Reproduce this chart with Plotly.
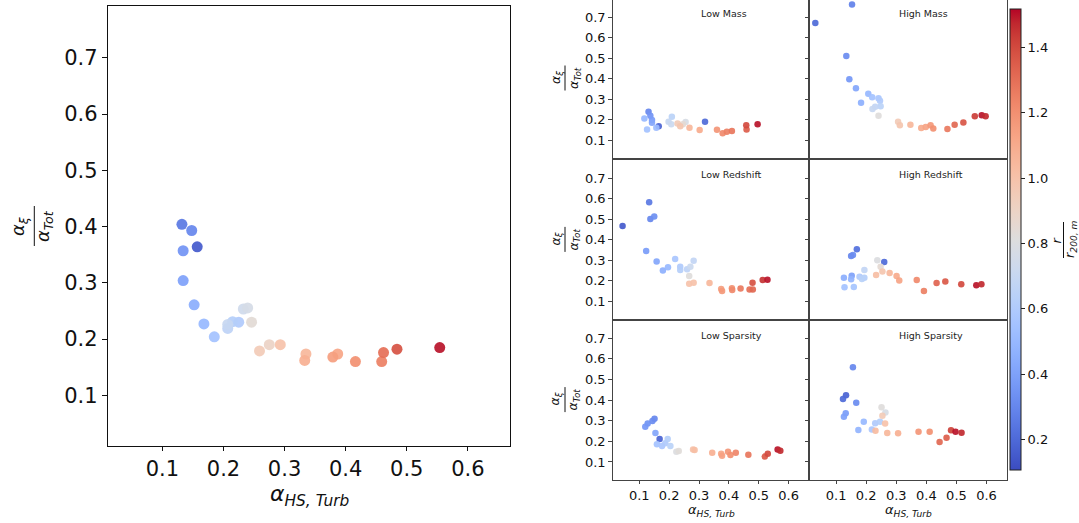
import plotly.graph_objects as go

W, H = 1079, 523

# ---------------- data ----------------
# main panel
main_x = [0.157, 0.132, 0.148, 0.134, 0.134, 0.152, 0.168, 0.185, 0.225, 0.215, 0.207, 0.207, 0.2325, 0.2396,
          0.246, 0.275, 0.259, 0.293, 0.335, 0.333, 0.387, 0.379, 0.416, 0.459, 0.462, 0.484, 0.554]
main_y = [0.364, 0.404, 0.393, 0.357, 0.304, 0.261, 0.227, 0.204, 0.230, 0.231, 0.219, 0.226, 0.2535, 0.2553,
          0.230, 0.190, 0.179, 0.190, 0.1735, 0.162, 0.1735, 0.168, 0.160, 0.160, 0.176, 0.182, 0.185]
main_r = [0.15, 0.25, 0.30, 0.35, 0.40, 0.45, 0.50, 0.55, 0.60, 0.62, 0.66, 0.70, 0.74, 0.77,
          0.84, 0.90, 0.95, 1.00, 1.05, 1.08, 1.12, 1.15, 1.20, 1.25, 1.30, 1.38, 1.50]

# Low Mass
lm_x = [0.165, 0.320, 0.131, 0.137, 0.1425, 0.1425, 0.117, 0.157, 0.126, 0.209, 0.198, 0.207, 0.255,
        0.246, 0.228, 0.237, 0.268, 0.302, 0.360, 0.379, 0.393, 0.410, 0.459, 0.458, 0.496]
lm_y = [0.168, 0.190, 0.238, 0.219, 0.198, 0.185, 0.206, 0.160, 0.152, 0.214, 0.190, 0.178, 0.188,
        0.177, 0.181, 0.168, 0.160, 0.149, 0.150, 0.133, 0.141, 0.144, 0.152, 0.173, 0.178]
lm_r = [0.18, 0.20, 0.30, 0.35, 0.38, 0.42, 0.50, 0.52, 0.55, 0.65, 0.70, 0.72, 0.78,
        0.85, 0.95, 0.98, 1.05, 1.10, 1.18, 1.22, 1.25, 1.28, 1.35, 1.40, 1.50]

# High Mass
hm_x = [0.031, 0.153, 0.134, 0.144, 0.166, 0.183, 0.207, 0.220, 0.241, 0.246, 0.248, 0.230, 0.221, 0.241,
        0.306, 0.312, 0.347, 0.383, 0.398, 0.414, 0.423, 0.470, 0.494, 0.523, 0.561, 0.584, 0.597]
hm_y = [0.672, 0.763, 0.511, 0.397, 0.353, 0.282, 0.327, 0.309, 0.304, 0.292, 0.266, 0.263, 0.252, 0.219,
        0.190, 0.173, 0.175, 0.159, 0.164, 0.172, 0.157, 0.154, 0.175, 0.186, 0.216, 0.221, 0.216]
hm_r = [0.20, 0.28, 0.32, 0.36, 0.42, 0.46, 0.50, 0.55, 0.57, 0.60, 0.65, 0.68, 0.70, 0.82,
        0.95, 0.98, 1.05, 1.10, 1.13, 1.17, 1.20, 1.27, 1.32, 1.37, 1.43, 1.50, 1.47]

# Low Redshift
lr_x = [0.044, 0.133, 0.137, 0.150, 0.123, 0.158, 0.179, 0.196, 0.220, 0.237, 0.237, 0.260, 0.271, 0.282,
        0.267, 0.267, 0.282, 0.335, 0.374, 0.377, 0.410, 0.411, 0.439, 0.469, 0.480, 0.479, 0.513, 0.529]
lr_y = [0.467, 0.583, 0.501, 0.513, 0.345, 0.293, 0.249, 0.265, 0.306, 0.268, 0.252, 0.255, 0.268, 0.297,
        0.222, 0.185, 0.190, 0.188, 0.159, 0.149, 0.162, 0.154, 0.161, 0.156, 0.156, 0.190, 0.203, 0.204]
lr_r = [0.15, 0.25, 0.30, 0.33, 0.38, 0.42, 0.46, 0.50, 0.57, 0.60, 0.62, 0.66, 0.72, 0.68,
        0.82, 1.00, 1.00, 1.05, 1.15, 1.17, 1.20, 1.22, 1.27, 1.30, 1.32, 1.38, 1.45, 1.50]

# High Redshift
hr_x = [0.169, 0.150, 0.156, 0.260, 0.152, 0.126, 0.150, 0.128, 0.159, 0.178, 0.194, 0.186, 0.194, 0.237,
        0.248, 0.254, 0.233, 0.278, 0.301, 0.310, 0.368, 0.392, 0.434, 0.463, 0.516, 0.566, 0.583]
hr_y = [0.353, 0.320, 0.325, 0.291, 0.224, 0.214, 0.206, 0.167, 0.169, 0.219, 0.214, 0.208, 0.252, 0.299,
        0.268, 0.244, 0.227, 0.237, 0.222, 0.201, 0.203, 0.149, 0.188, 0.195, 0.182, 0.177, 0.182]
hr_r = [0.22, 0.30, 0.32, 0.20, 0.40, 0.45, 0.48, 0.55, 0.56, 0.60, 0.62, 0.64, 0.68, 0.80,
        0.85, 0.98, 1.02, 1.05, 1.10, 1.13, 1.22, 1.25, 1.33, 1.36, 1.40, 1.50, 1.47]

# Low Sparsity
ls_x = [0.168, 0.151, 0.144, 0.128, 0.120, 0.154, 0.159, 0.176, 0.187, 0.195, 0.204, 0.224, 0.232,
        0.280, 0.285, 0.344, 0.374, 0.377, 0.397, 0.405, 0.423, 0.465, 0.520, 0.530, 0.563, 0.572]
ls_y = [0.212, 0.310, 0.299, 0.286, 0.271, 0.241, 0.186, 0.178, 0.191, 0.212, 0.178, 0.150, 0.153,
        0.161, 0.158, 0.145, 0.140, 0.130, 0.150, 0.134, 0.145, 0.135, 0.126, 0.140, 0.161, 0.155]
ls_r = [0.18, 0.30, 0.32, 0.34, 0.36, 0.42, 0.55, 0.58, 0.60, 0.62, 0.65, 0.80, 0.83,
        1.00, 1.02, 1.08, 1.12, 1.14, 1.18, 1.20, 1.23, 1.28, 1.36, 1.40, 1.50, 1.47]

# High Sparsity
hs_x = [0.133, 0.123, 0.156, 0.167, 0.132, 0.126, 0.192, 0.174, 0.219, 0.230, 0.246, 0.251, 0.264,
        0.254, 0.263, 0.231, 0.270, 0.306, 0.374, 0.411, 0.444, 0.467, 0.482, 0.497, 0.517]
hs_y = [0.424, 0.405, 0.560, 0.387, 0.336, 0.319, 0.295, 0.255, 0.258, 0.288, 0.295, 0.366, 0.340,
        0.324, 0.287, 0.251, 0.240, 0.239, 0.247, 0.247, 0.197, 0.218, 0.254, 0.247, 0.242]
hs_r = [0.18, 0.20, 0.30, 0.32, 0.38, 0.40, 0.50, 0.48, 0.58, 0.60, 0.62, 0.82, 0.78,
        0.95, 1.00, 1.03, 1.05, 1.08, 1.18, 1.20, 1.32, 1.35, 1.42, 1.50, 1.47]

panel_titles = ["Low Mass", "High Mass", "Low Redshift", "High Redshift", "Low Sparsity", "High Sparsity"]
tick_vals_x = [0.1, 0.2, 0.3, 0.4, 0.5, 0.6]
tick_vals_y = [0.1, 0.2, 0.3, 0.4, 0.5, 0.6, 0.7]
cbar_ticks = [0.2, 0.4, 0.6, 0.8, 1.0, 1.2, 1.4]

# ---------------- styling ----------------
coolwarm_rgb = [(59, 76, 192), (68, 90, 204), (77, 104, 215), (87, 117, 225), (98, 130, 234), (108, 142, 241),
                (119, 154, 247), (130, 165, 251), (141, 176, 254), (152, 185, 255), (163, 194, 255),
                (174, 201, 253), (184, 208, 249), (194, 213, 244), (204, 217, 238), (213, 219, 230),
                (221, 221, 221), (229, 216, 209), (236, 211, 197), (241, 204, 185), (245, 196, 173),
                (247, 187, 160), (247, 177, 148), (247, 166, 135), (244, 154, 123), (241, 141, 111),
                (236, 127, 99), (229, 112, 88), (222, 96, 77), (213, 80, 66), (203, 62, 56),
                (192, 40, 47), (180, 4, 38)]
n = len(coolwarm_rgb) - 1
colorscale = [[i / n, "rgb(%d,%d,%d)" % c] for i, c in enumerate(coolwarm_rgb)]
CMIN, CMAX = 0.106, 1.518
FONT = "DejaVu Sans"


def px_x(p):
    return p / W


def px_y(p):
    return 1 - p / H


fig = go.Figure()

panels = [
    (main_x, main_y, main_r, "x", "y", 11),
    (lm_x, lm_y, lm_r, "x2", "y2", 6.5),
    (hm_x, hm_y, hm_r, "x3", "y3", 6.5),
    (lr_x, lr_y, lr_r, "x4", "y4", 6.5),
    (hr_x, hr_y, hr_r, "x5", "y5", 6.5),
    (ls_x, ls_y, ls_r, "x6", "y6", 6.5),
    (hs_x, hs_y, hs_r, "x7", "y7", 6.5),
]
for i, (xs, ys, rs, xa, ya, ms) in enumerate(panels):
    marker = dict(size=ms, color=rs, colorscale=colorscale, cmin=CMIN, cmax=CMAX, opacity=0.92,
                  line=dict(width=0))
    if i == 1:
        marker.update(showscale=True, colorbar=dict(
            x=px_x(1010), xanchor="left", y=px_y(239.6), yanchor="middle",
            len=460.7 / H, lenmode="fraction", thickness=10.5, thicknessmode="pixels",
            xpad=0, ypad=0, outlinewidth=1, outlinecolor="#222",
            ticks="outside", ticklen=4, tickwidth=1, tickcolor="#222",
            tickvals=cbar_ticks, tickformat=".1f",
            tickfont=dict(family=FONT, size=13, color="#111")))
    fig.add_trace(go.Scatter(x=xs, y=ys, mode="markers", marker=marker, xaxis=xa, yaxis=ya,
                             showlegend=False, hoverinfo="skip"))

layout = dict(width=W, height=H, margin=dict(l=0, r=0, t=0, b=0), paper_bgcolor="white",
              plot_bgcolor="white", showlegend=False)

XR = [0.011, 0.669]
# main axes
layout["xaxis"] = dict(domain=[px_x(108), px_x(510)], range=XR, tickvals=tick_vals_x, tickformat=".1f",
                       showline=True, mirror=True, linecolor="#111", linewidth=1.3, showgrid=False,
                       zeroline=False, ticks="outside", ticklen=4, tickwidth=1, tickcolor="#111",
                       tickfont=dict(family=FONT, size=21, color="#111"), anchor="y")
layout["yaxis"] = dict(domain=[px_y(446), px_y(6)], range=[0.01, 0.792], tickvals=tick_vals_y,
                       tickformat=".1f", showline=True, mirror=True, linecolor="#111", linewidth=1.3,
                       showgrid=False, zeroline=False, ticks="outside", ticklen=5, tickwidth=1,
                       tickcolor="#111", tickfont=dict(family=FONT, size=21, color="#111"), anchor="x")

cols = [[px_x(612.7), px_x(809.3)], [px_x(809.3), px_x(1007.3)]]
rows = [([px_y(159.3), 1.0], [0.006, 0.785]),
        ([px_y(319.5), px_y(159.3)], [0.0098, 0.793]),
        ([px_y(479.7), px_y(319.5)], [0.014, 0.791])]
for k in range(6):
    r, c = divmod(k, 2)
    idx = k + 2
    dom_y, rng_y = rows[r]
    last_row = r == 2
    layout["xaxis%d" % idx] = dict(domain=cols[c], range=XR, tickvals=tick_vals_x, tickformat=".1f",
                                   showline=True, mirror=True, linecolor="#444", linewidth=1,
                                   showgrid=False, zeroline=False,
                                   ticks="outside" if last_row else "", ticklen=3.5, tickcolor="#444",
                                   showticklabels=last_row,
                                   tickfont=dict(family=FONT, size=13, color="#111"), anchor="y%d" % idx)
    layout["yaxis%d" % idx] = dict(domain=dom_y, range=rng_y, tickvals=tick_vals_y, tickformat=".1f",
                                   showline=True, mirror=True, linecolor="#444", linewidth=1,
                                   showgrid=False, zeroline=False, ticks="outside", ticklen=3.5,
                                   tickcolor="#444", showticklabels=(c == 0),
                                   tickfont=dict(family=FONT, size=13, color="#111"), anchor="x%d" % idx)
fig.update_layout(**layout)

annotations = []
shapes = []

# panel titles (left-anchored)
title_pos = [(699.3, 14), (896.7, 14), (699.3, 174.3), (896.7, 174.3), (699.3, 335), (896.7, 335)]
for t, (tx, ty) in zip(panel_titles, title_pos):
    annotations.append(dict(text=t, x=px_x(tx), y=px_y(ty), xref="paper", yref="paper", xanchor="left",
                            yanchor="middle", showarrow=False, font=dict(family=FONT, size=9.5, color="#222")))


def fraction(num, den, xn, xl, xd, yc, half, size):
    annotations.append(dict(text=num, x=px_x(xn), y=px_y(yc), xref="paper", yref="paper", textangle=-90,
                            xanchor="center", yanchor="middle", showarrow=False,
                            font=dict(family=FONT, size=size, color="#111")))
    annotations.append(dict(text=den, x=px_x(xd), y=px_y(yc), xref="paper", yref="paper", textangle=-90,
                            xanchor="center", yanchor="middle", showarrow=False,
                            font=dict(family=FONT, size=size, color="#111")))
    shapes.append(dict(type="line", xref="paper", yref="paper", x0=px_x(xl), x1=px_x(xl),
                       y0=px_y(yc - half), y1=px_y(yc + half), line=dict(color="#111", width=1)))


NUM = "<i>α</i><sub><i>ξ</i></sub>"
DEN = "<i>α</i><sub><i>Tot</i></sub>"
fraction(NUM, DEN, 19, 34.3, 44, 226, 20, 18)
for yc in [78, 239.4, 399.6]:
    fraction(NUM, DEN, 556, 565, 574, yc, 12.5, 12.5)

# colorbar label r / r_200,m
fraction("<i>r</i>", "<i>r</i><sub><i>200, m</i></sub>", 1056.5, 1063.5, 1071, 240, 18, 13)

XLAB = "<i>α</i><sub><i>HS, Turb</i></sub>"
annotations.append(dict(text=XLAB, x=px_x(310), y=px_y(495), xref="paper", yref="paper", xanchor="center",
                        yanchor="middle", showarrow=False, font=dict(family=FONT, size=22, color="#111")))
for cx in [711, 908]:
    annotations.append(dict(text=XLAB, x=px_x(cx), y=px_y(510), xref="paper", yref="paper", xanchor="center",
                            yanchor="middle", showarrow=False, font=dict(family=FONT, size=13, color="#111")))

fig.update_layout(annotations=annotations, shapes=shapes)
fig.write_html("out.html")
